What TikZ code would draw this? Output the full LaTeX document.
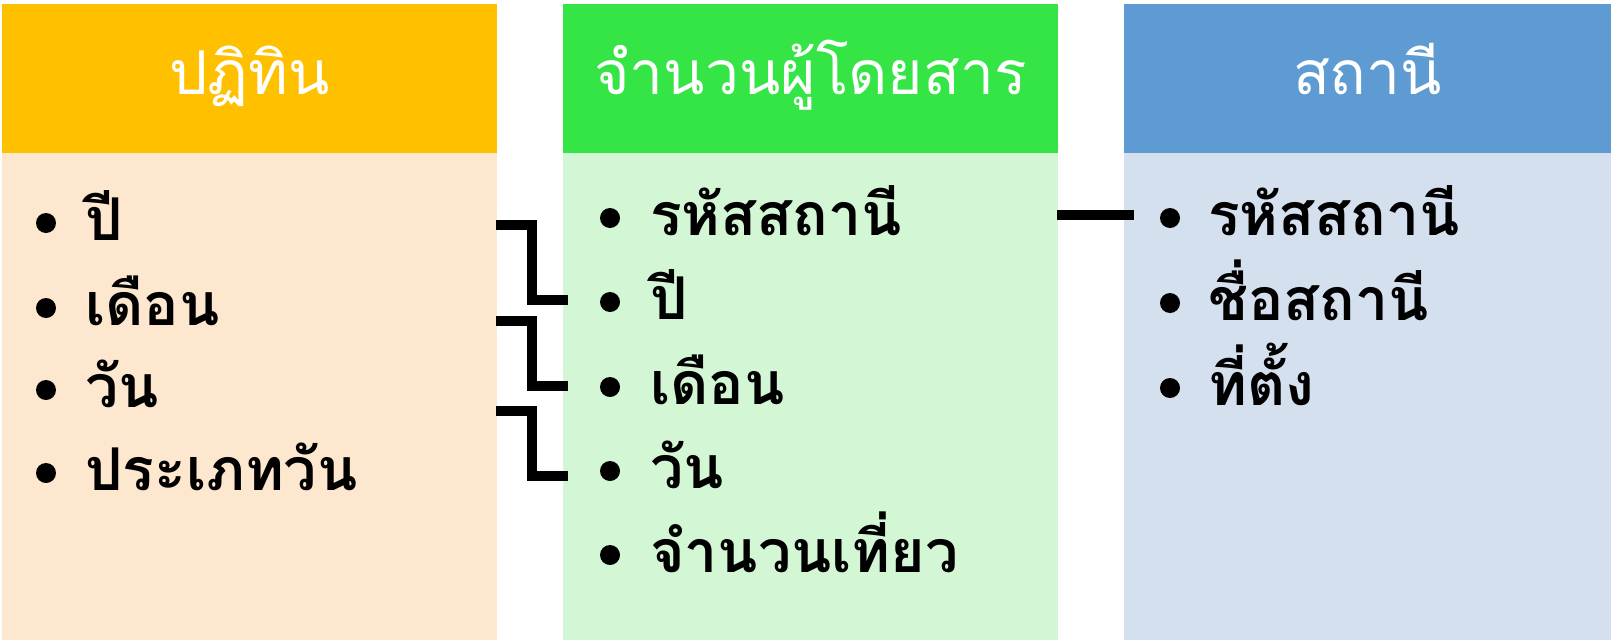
\documentclass[tikz,border=0pt]{standalone}
\usepackage{fontspec}
\newfontfamily\thai[Script=Thai]{Loma}
\definecolor{hOrange}{HTML}{FFC000}
\definecolor{bOrange}{HTML}{FDE7CE}
\definecolor{hGreen}{HTML}{35E445}
\definecolor{bGreen}{HTML}{D3F7D5}
\definecolor{hBlue}{HTML}{5F9BD3}
\definecolor{bBlue}{HTML}{D5E0EF}
\tikzset{
  headtext/.style={anchor=base, text=white, font=\thai\fontsize{60.5}{64}\selectfont, inner sep=0pt},
  itemtext/.style={anchor=base west, text=black, font=\thai\bfseries\fontsize{59}{64}\selectfont, inner sep=0pt},
  link/.style={line width=9.5pt, black},
  dot/.style={fill=black}
}
\begin{document}
\begin{tikzpicture}[x=1pt,y=-1pt]
\useasboundingbox (0,0) rectangle (1611,640);
\fill[white] (0,0) rectangle (1611,640);
% columns
\fill[hOrange] (2,4) rectangle (497,153);
\fill[bOrange] (2,153) rectangle (497,640);
\fill[hGreen] (563,4) rectangle (1058,153);
\fill[bGreen] (563,153) rectangle (1058,640);
\fill[hBlue] (1124,4) rectangle (1611,153);
\fill[bBlue] (1124,153) rectangle (1611,640);
% headers
\node[headtext] (h1) at (249.5,94) {ปฏิทิน};
\node[headtext] (h2) at (810.5,94) {จำนวนผู้โดยสาร};
\node[headtext] (h3) at (1367.5,94) {สถานี};
% column 1 items
\foreach \y/\t/\n in {223/ปี/a1, 308/เดือน/a2, 390/วัน/a3, 473/ประเภทวัน/a4}{
  \fill[dot] (46,\y) circle (10);
  \node[itemtext] (\n) at (85,\y+17) {\t};
}
% column 2 items
\foreach \y/\t/\n in {218/รหัสสถานี/b1, 302/ปี/b2, 387/เดือน/b3, 471/วัน/b4, 555/จำนวนเที่ยว/b5}{
  \fill[dot] (610,\y) circle (10);
  \node[itemtext] (\n) at (650,\y+17) {\t};
}
% column 3 items
\foreach \y/\t/\n in {218/รหัสสถานี/c1, 303/ชื่อสถานี/c2, 388/ที่ตั้ง/c3}{
  \fill[dot] (1170,\y) circle (10);
  \node[itemtext] (\n) at (1208,\y+17) {\t};
}
% connectors
\coordinate (s1) at (496,225);
\coordinate (e1) at (568,300);
\coordinate (s2) at (496,321);
\coordinate (e2) at (568,386);
\coordinate (s3) at (496,411);
\coordinate (e3) at (568,476);
\draw[link] (s1) -- ++(36,0) |- (e1);
\draw[link] (s2) -- ++(36,0) |- (e2);
\draw[link] (s3) -- ++(36,0) |- (e3);
\coordinate (s4) at (1057,215);
\coordinate (e4) at (1134,215);
\draw[link, line width=10.5pt] (s4) -- (e4);
\end{tikzpicture}
\end{document}
